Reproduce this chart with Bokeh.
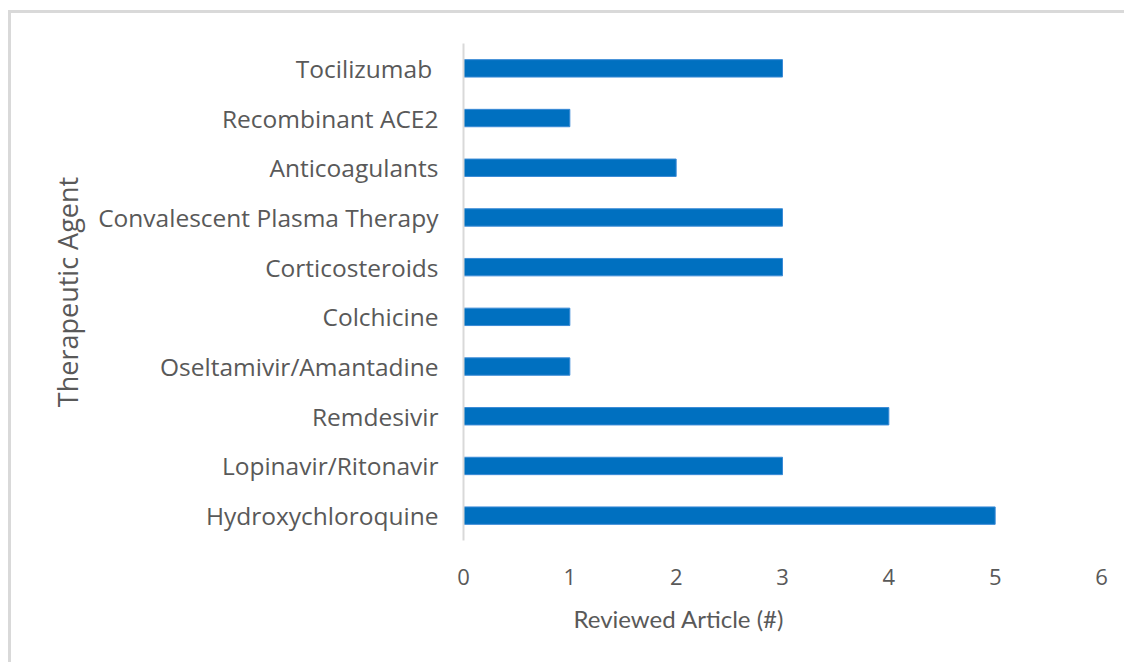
from bokeh.plotting import figure
from bokeh.models import Range1d, SingleIntervalTicker, Title
from bokeh.embed import file_html
from bokeh.resources import INLINE

agents = ["Hydroxychloroquine", "Lopinavir/Ritonavir", "Remdesivir", "Oseltamivir/Amantadine",
          "Colchicine", "Corticosteroids", "Convalescent Plasma Therapy", "Anticoagulants",
          "Recombinant ACE2", "Tocilizumab "]
articles = [5, 3, 4, 1, 1, 3, 3, 2, 1, 3]
x_title = "Reviewed Article (#)"
y_title = "Therapeutic Agent"

GRAY = "#595959"
W, H = 1116, 652

p = figure(width=W, height=H, y_range=agents, x_range=Range1d(0, 6),
           output_backend="svg", toolbar_location=None,
           min_border_left=452, min_border_right=26, min_border_top=30, min_border_bottom=125)
p.hbar(y=agents, right=articles, height=0.35, fill_color="#0070C0", line_color="#3a8ad6", line_width=1)

p.outline_line_color = None
p.xgrid.visible = False
p.ygrid.visible = False
p.background_fill_color = "white"
p.border_fill_color = "white"

yax = p.yaxis[0]
yax.axis_line_color = "#d9d9d9"
yax.axis_line_width = 2
yax.major_tick_line_color = None
yax.minor_tick_line_color = None
yax.major_tick_out = 0
yax.major_tick_in = 0
yax.major_label_standoff = 25
yax.major_label_text_font = "Open Sans"
yax.major_label_text_font_size = "24.5px"
yax.major_label_text_color = GRAY
yax.axis_label = y_title
yax.axis_label_text_font = "Open Sans"
yax.axis_label_text_font_style = "normal"
yax.axis_label_text_font_size = "27px"
yax.axis_label_text_color = GRAY
yax.axis_label_standoff = 9

xax = p.xaxis[0]
xax.ticker = SingleIntervalTicker(interval=1)
xax.axis_line_color = None
xax.major_tick_line_color = None
xax.minor_tick_line_color = None
xax.major_tick_out = 0
xax.major_tick_in = 0
xax.major_label_standoff = 24
xax.major_label_text_font = "Open Sans"
xax.major_label_text_font_size = "22px"
xax.major_label_text_color = GRAY

p.add_layout(Title(text=x_title, align="left", offset=110, standoff=29,
                   text_font="Lato", text_font_style="normal", text_font_size="24px",
                   text_color=GRAY), "below")

p.styles = {"border-top": "3px solid #d9d9d9", "border-left": "3px solid #d9d9d9",
            "margin-left": "8px", "margin-top": "10px"}

open("out.html", "w").write(file_html(p, INLINE))
